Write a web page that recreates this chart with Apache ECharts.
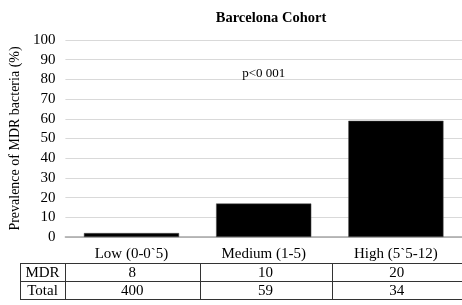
<!DOCTYPE html>
<html>
<head>
<meta charset="utf-8">
<script src="https://cdn.jsdelivr.net/npm/echarts@6/dist/echarts.min.js"></script>
<style>
  html, body { margin: 0; padding: 0; background: #fff; }
  #chart { width: 462px; height: 305px; }
</style>
</head>
<body>
<div id="chart"></div>
<script>
var categories = ['Low (0-0`5)', 'Medium (1-5)', 'High (5`5-12)'];
var prevalence = [2, 17, 59];
var mdrCounts = [8, 10, 20];
var totalCounts = [400, 59, 34];
var yTicks = [0, 10, 20, 30, 40, 50, 60, 70, 80, 90, 100];

var serif = '"Liberation Serif", "DejaVu Serif", serif';
var chart = echarts.init(document.getElementById('chart'));

var option = {
    animation: false,
    backgroundColor: '#fff',
    title: {
        text: 'Barcelona Cohort',
        left: 266,
        top: 6,
        textAlign: 'center',
        textStyle: { fontFamily: serif, fontSize: 14.5, fontWeight: 'bold', color: '#000' }
    },
    grid: { left: 62, right: -3, top: 40, bottom: 68 },
    xAxis: {
        type: 'category',
        data: categories,
        axisLine: { lineStyle: { color: '#a6a6a6', width: 1.5 } },
        axisTick: { show: false },
        axisLabel: { fontFamily: serif, fontSize: 15, color: '#000', margin: 10 }
    },
    yAxis: {
        type: 'value',
        min: yTicks[0],
        max: yTicks[yTicks.length - 1],
        interval: 10,
        name: 'Prevalence of MDR bacteria (%)',
        nameLocation: 'middle',
        nameGap: 40,
        nameTextStyle: { fontFamily: serif, fontSize: 14, color: '#000' },
        axisLine: { show: false },
        axisTick: { show: false },
        axisLabel: { fontFamily: serif, fontSize: 15, color: '#000', margin: 10 },
        splitLine: { lineStyle: { color: '#d9d9d9', width: 1 } }
    },
    series: [{
        type: 'bar',
        data: prevalence,
        barCategoryGap: '28%',
        itemStyle: { color: '#000', borderColor: '#555', borderWidth: 0.5 },
        markPoint: {
            symbol: 'rect',
            symbolSize: 1,
            itemStyle: { color: 'transparent' },
            label: { show: true, formatter: 'p<0 001', fontFamily: serif, fontSize: 13, color: '#000' },
            data: [{ coord: [1, 83] }]
        }
    }]
};
chart.setOption(option);

// table under the axis, columns follow the category bands
var rowTop = 263, rowH = 18;
var labelLeft = 20, labelRight = 65, tableRight = 462;
var g = [];
var bounds = [labelRight];
for (var i = 0; i < categories.length - 1; i++) {
    var a = chart.convertToPixel({ gridIndex: 0 }, [i, 0])[0];
    var b = chart.convertToPixel({ gridIndex: 0 }, [i + 1, 0])[0];
    bounds.push(Math.round((a + b) / 2) + 1.5);
}
bounds.push(tableRight);
var lineStyle = { stroke: '#333', lineWidth: 1 };
// horizontal lines
[rowTop, rowTop + rowH, rowTop + 2 * rowH].forEach(function (y) {
    g.push({ type: 'line', shape: { x1: labelLeft, y1: y + 0.5, x2: tableRight, y2: y + 0.5 }, style: lineStyle });
});
// vertical lines
[labelLeft].concat(bounds.slice(0, bounds.length - 1)).forEach(function (x) {
    x = Math.round(x) + 0.5;
    g.push({ type: 'line', shape: { x1: x, y1: rowTop, x2: x, y2: rowTop + 2 * rowH + 0.5 }, style: lineStyle });
});
var rows = [['MDR', mdrCounts], ['Total', totalCounts]];
rows.forEach(function (r, ri) {
    var cy = rowTop + ri * rowH + rowH / 2 + 1;
    g.push({ type: 'text', x: (labelLeft + labelRight) / 2, y: cy,
        style: { text: r[0], fontFamily: serif, fontSize: 15, fill: '#000', align: 'center', verticalAlign: 'middle' } });
    r[1].forEach(function (v, ci) {
        var cx = (bounds[ci] + bounds[ci + 1]) / 2;
        g.push({ type: 'text', x: cx, y: cy,
            style: { text: String(v), fontFamily: serif, fontSize: 15, fill: '#000', align: 'center', verticalAlign: 'middle' } });
    });
});
chart.setOption({ graphic: g });
</script>
</body>
</html>
